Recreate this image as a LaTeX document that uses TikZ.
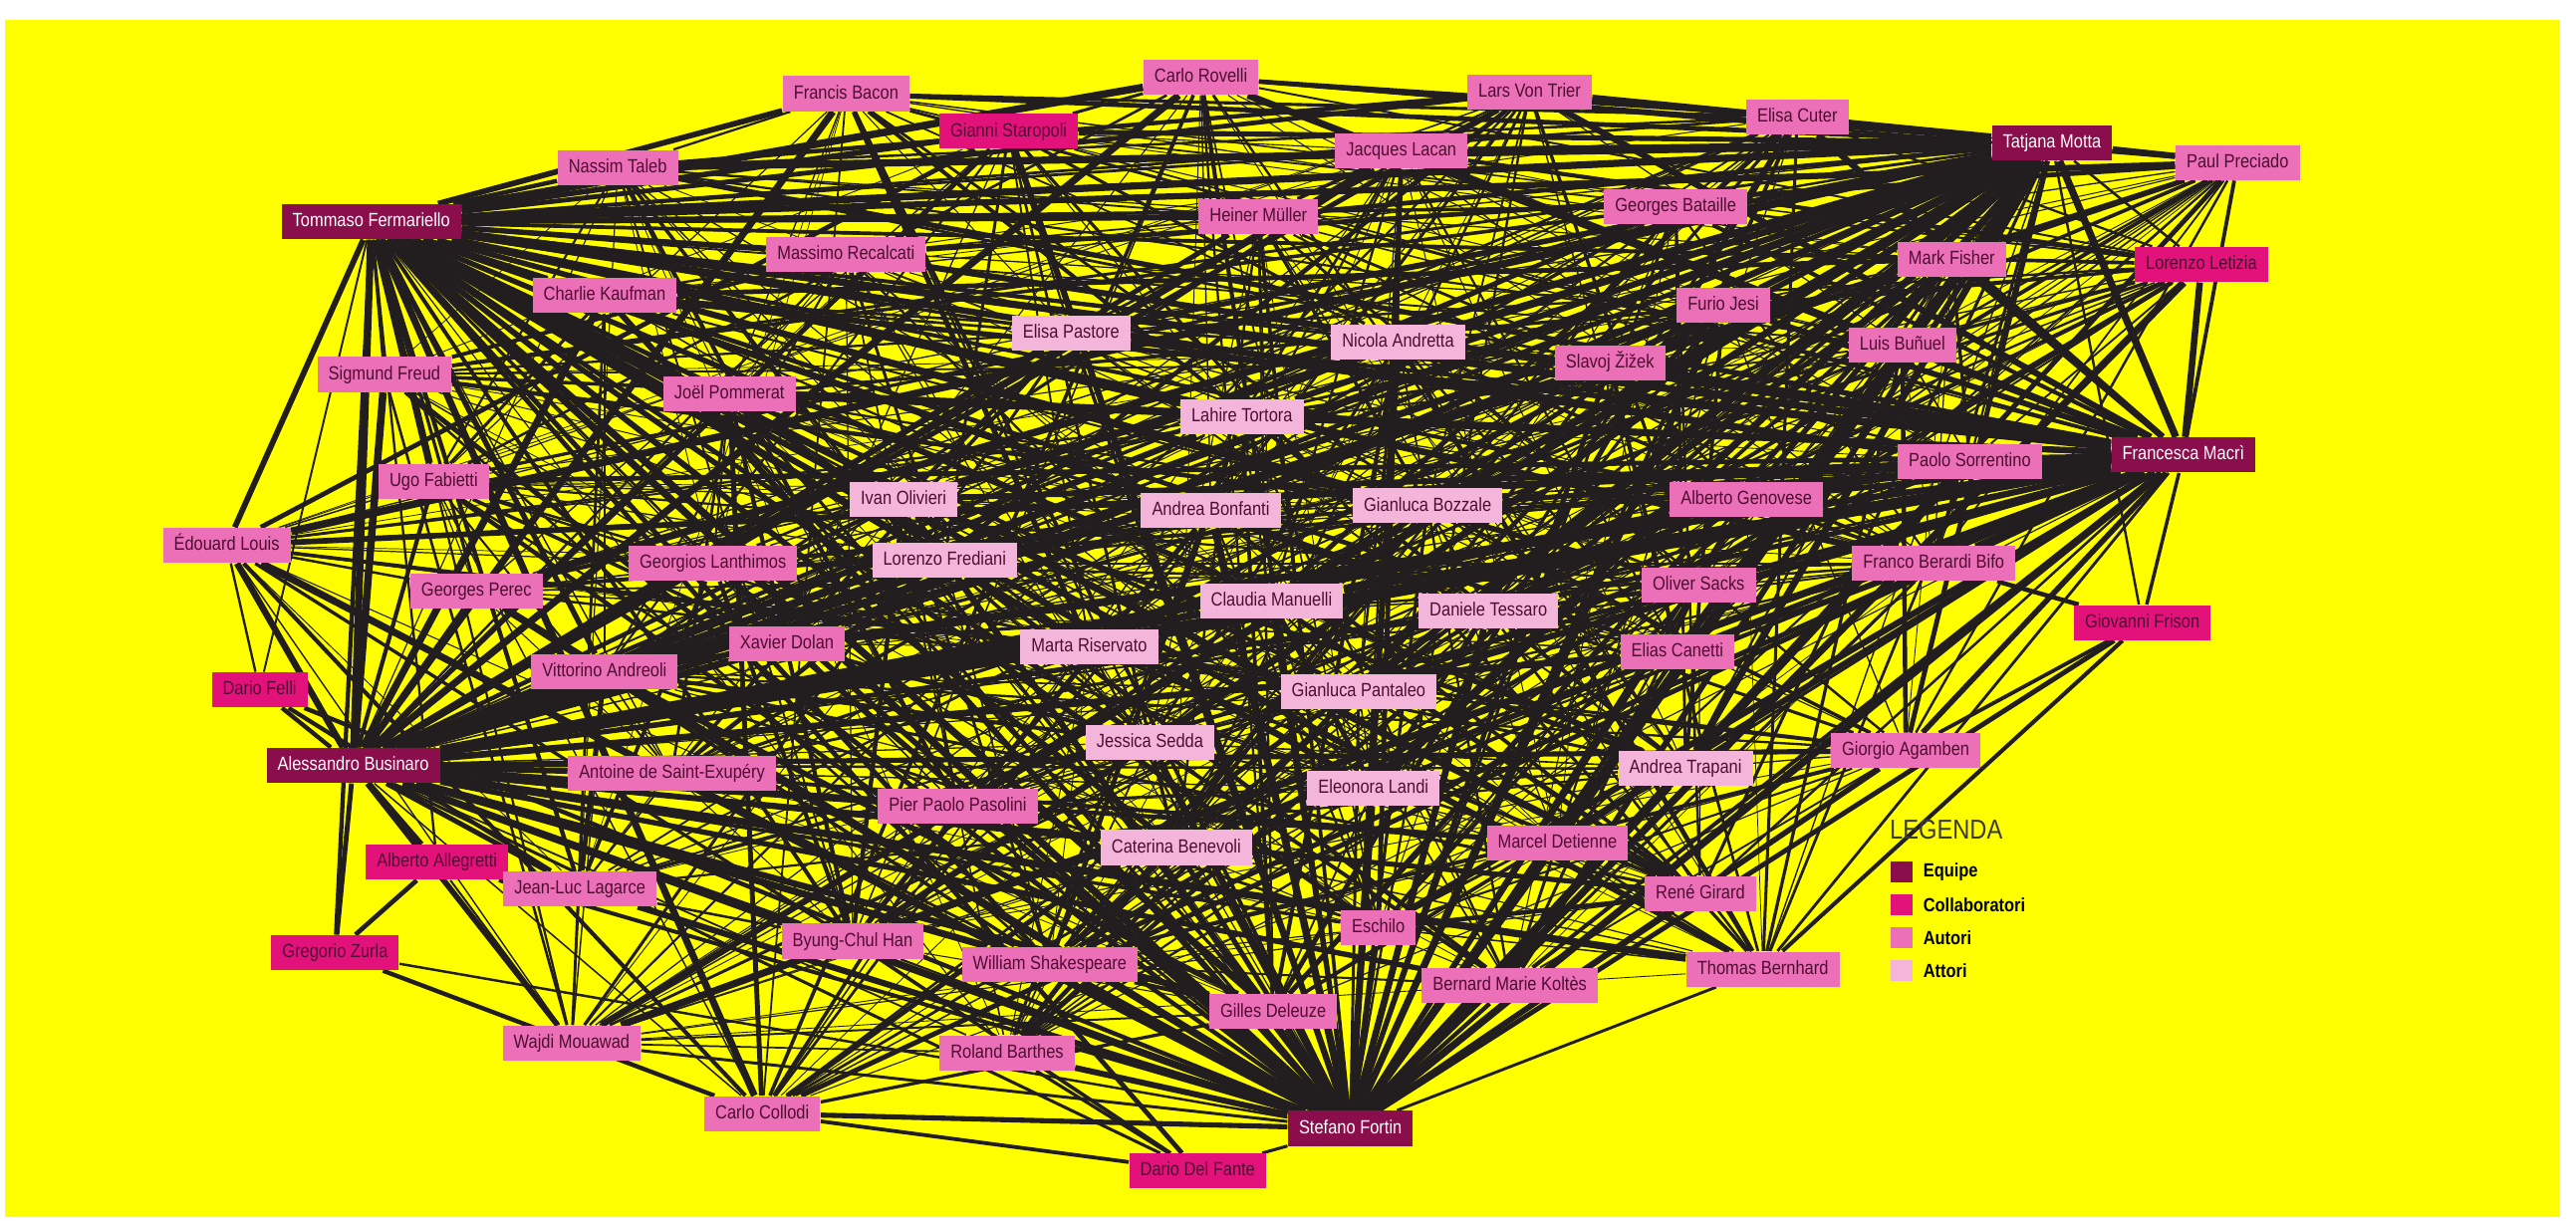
\documentclass[tikz,border=0pt]{standalone}
\usepackage{fontspec}
\setmainfont{Liberation Sans}[FakeStretch=0.86]
\usetikzlibrary{positioning,backgrounds}

\definecolor{giallo}{HTML}{FFFF00}
\definecolor{nero}{HTML}{221E1F}
\definecolor{cequipe}{HTML}{8A0E4B}
\definecolor{ccollab}{HTML}{E3127B}
\definecolor{cautori}{HTML}{EC70B8}
\definecolor{cattori}{HTML}{F3B6DA}
\definecolor{ctesto}{HTML}{4D0C30}
\definecolor{cleg}{HTML}{3A3A3A}

\begin{document}
\begin{tikzpicture}[x=0.2mm, y=-0.2mm]
			\tikzstyle{box}    = [rectangle, inner xsep=3.8pt, inner ysep=2.9pt, text height=4.9pt, text depth=1.4pt, font=\fontsize{6.6}{7}\selectfont, text=ctesto]
			\tikzstyle{equipe} = [box, fill=cequipe, text=white]
			\tikzstyle{collab} = [box, fill=ccollab]
			\tikzstyle{autore} = [box, fill=cautori]
			\tikzstyle{attore} = [box, fill=cattori]
			\tikzstyle{legame} = [draw=nero]
			\tikzstyle{quad}   = [rectangle, minimum size=2.6mm, inner sep=0pt]
			\tikzstyle{voce}   = [font=\fontsize{6.6}{7}\selectfont\bfseries, text=black, inner sep=0pt]

			\useasboundingbox (0,0) rectangle (1568,743);
%			\draw[step=100, gray!50] (0,0) grid (1568,743);

			\foreach \id/\x/\y/\testo in {tommaso/226/135/Tommaso Fermariello, tatjana/1249/87/Tatjana Motta, francesca/1329/277/Francesca Macrì, alessandro/215/466/Alessandro Businaro, stefano/822/687/Stefano Fortin}
				\node[equipe] (\id) at (\x, \y) {\testo};

			\foreach \id/\x/\y/\testo in {staropoli/614/80/Gianni Staropoli, letizia/1340/161/Lorenzo Letizia, frison/1304/379/Giovanni Frison, felli/158/420/Dario Felli, allegretti/266/525/Alberto Allegretti, zurla/204/580/Gregorio Zurla, delfante/729/713/Dario Del Fante}
				\node[collab] (\id) at (\x, \y) {\testo};

			\foreach \id/\x/\y/\testo in {bacon/515/57/Francis Bacon, rovelli/731/47/Carlo Rovelli, vontrier/931/56/Lars Von Trier, cuter/1094/71/Elisa Cuter, preciado/1362/99/Paul Preciado, taleb/376/102/Nassim Taleb, lacan/853/92/Jacques Lacan, recalcati/515/155/Massimo Recalcati, muller/766/132/Heiner Müller, bataille/1020/126/Georges Bataille, fisher/1188/158/Mark Fisher, kaufman/368/180/Charlie Kaufman, jesi/1049/186/Furio Jesi, zizek/980/221/Slavoj Žižek, bunuel/1158/210/Luis Buñuel, freud/234/228/Sigmund Freud, pommerat/444/240/Joël Pommerat, fabietti/264/293/Ugo Fabietti, sorrentino/1199/281/Paolo Sorrentino, genovese/1063/304/Alberto Genovese, louis/138/332/Édouard Louis, perec/290/360/Georges Perec, lanthimos/434/343/Georgios Lanthimos, bifo/1177/343/Franco Berardi Bifo, sacks/1034/356/Oliver Sacks, dolan/479/392/Xavier Dolan, andreoli/368/409/Vittorino Andreoli, canetti/1021/397/Elias Canetti, exupery/409/471/Antoine de Saint-Exupéry, pasolini/583/491/Pier Paolo Pasolini, agamben/1160/457/Giorgio Agamben, detienne/948/513/Marcel Detienne, lagarce/353/541/Jean-Luc Lagarce, girard/1035/544/René Girard, eschilo/839/565/Eschilo, han/519/573/Byung-Chul Han, shakespeare/639/587/William Shakespeare, koltes/919/600/Bernard Marie Koltès, bernhard/1073/590/Thomas Bernhard, deleuze/775/616/Gilles Deleuze, mouawad/348/635/Wajdi Mouawad, barthes/613/641/Roland Barthes, collodi/464/678/Carlo Collodi}
				\node[autore] (\id) at (\x, \y) {\testo};

			\foreach \id/\x/\y/\testo in {pastore/652/203/Elisa Pastore, andretta/851/208/Nicola Andretta, tortora/756/254/Lahire Tortora, olivieri/550/304/Ivan Olivieri, bonfanti/737/311/Andrea Bonfanti, bozzale/869/308/Gianluca Bozzale, frediani/575/341/Lorenzo Frediani, manuelli/774/366/Claudia Manuelli, tessaro/906/372/Daniele Tessaro, riservato/663/394/Marta Riservato, pantaleo/827/421/Gianluca Pantaleo, sedda/700/452/Jessica Sedda, trapani/1026/468/Andrea Trapani, landi/836/480/Eleonora Landi, benevoli/716/516/Caterina Benevoli}
				\node[attore] (\id) at (\x, \y) {\testo};

			% legenda
			\node[anchor=west, inner sep=0pt, text=cleg, font=\fontsize{9.5}{10}\selectfont] (legenda) at (1150, 505) {LEGENDA};
			\node[quad, fill=cequipe] (qequipe) at (1157.5, 531) {};
			\node[quad, fill=ccollab] (qcollab) at (1157.5, 551) {};
			\node[quad, fill=cautori] (qautori) at (1157.5, 571) {};
			\node[quad, fill=cattori] (qattori) at (1157.5, 591) {};
			\node[voce, right=1.2mm of qequipe] {Equipe};
			\node[voce, right=1.2mm of qcollab] {Collaboratori};
			\node[voce, right=1.2mm of qautori] {Autori};
			\node[voce, right=1.2mm of qattori] {Attori};

			\def\hubs{tommaso, tatjana, francesca, alessandro, stefano}
			\def\nodi{bacon, rovelli, vontrier, cuter, preciado, taleb, lacan, recalcati, muller, bataille, fisher, kaufman, jesi, zizek, bunuel, freud, pommerat, fabietti, sorrentino, genovese, louis, perec, lanthimos, bifo, sacks, dolan, andreoli, canetti, exupery, pasolini, agamben, detienne, lagarce, girard, eschilo, han, shakespeare, koltes, bernhard, deleuze, mouawad, barthes, collodi, pastore, andretta, tortora, olivieri, bonfanti, bozzale, frediani, manuelli, tessaro, riservato, pantaleo, sedda, trapani, landi, benevoli, staropoli, letizia}

			\begin{pgfonlayer}{background}
				\fill[white] (0,0) rectangle (1568,743);
				\fill[giallo] (3,12) rectangle (1558,741);
				\pgfmathsetseed{4}
				\foreach \a [count=\i] in \nodi
					\foreach \b [count=\j] in \nodi {
						\ifnum\j>\i
							\pgfmathsetmacro\r{rnd}
							\ifdim\r pt<0.32pt
								\pgfmathsetmacro\lw{0.25+1.8*rnd*rnd}
								\draw[legame, line width=\lw pt] (\a) -- (\b);
							\fi
						\fi
					}
				\foreach \h in \hubs
					\foreach \b in \nodi {
						\pgfmathsetmacro\lw{0.4+2.2*rnd}
						\draw[legame, line width=\lw pt] (\h) -- (\b);
					}
				\foreach \a/\b in {tommaso/tatjana, tommaso/francesca, tommaso/alessandro, tommaso/stefano, tatjana/francesca, tatjana/alessandro, tatjana/stefano, francesca/alessandro, francesca/stefano, alessandro/stefano}
					\draw[legame, line width=2.5pt] (\a) -- (\b);
				\foreach \a/\b in {felli/tommaso, felli/alessandro, felli/stefano, felli/louis, felli/lagarce, allegretti/zurla, allegretti/tommaso, allegretti/alessandro, allegretti/stefano, allegretti/lagarce, allegretti/mouawad, zurla/tommaso, zurla/alessandro, zurla/stefano, zurla/collodi, frison/francesca, frison/bifo, frison/tatjana, frison/agamben, frison/stefano, frison/bernhard, delfante/stefano, delfante/barthes, delfante/alessandro, delfante/han, delfante/collodi, delfante/tommaso} {
					\pgfmathsetmacro\lw{0.4+1.6*rnd}
					\draw[legame, line width=\lw pt] (\a) -- (\b);
				}
			\end{pgfonlayer}
		\end{tikzpicture}
\end{document}
